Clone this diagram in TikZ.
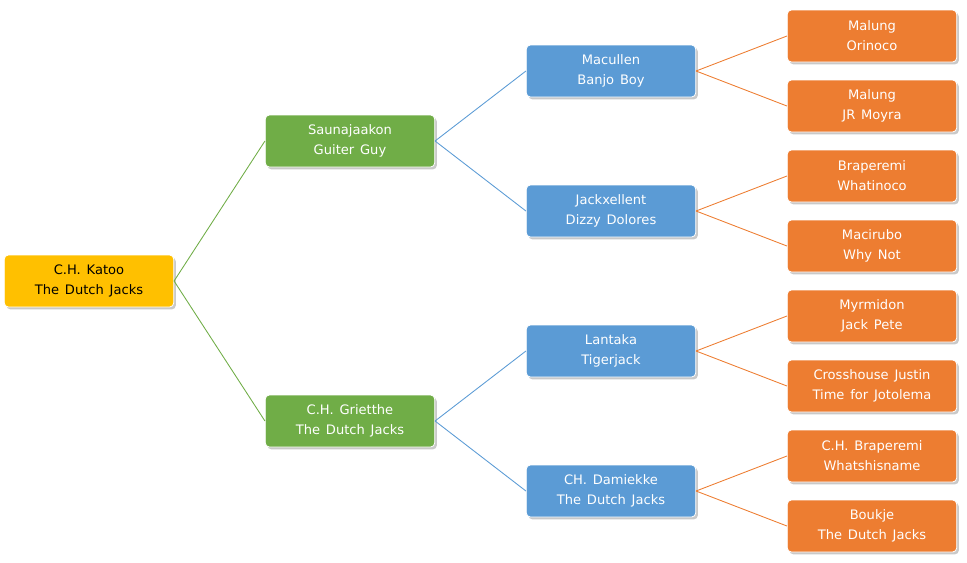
\documentclass[tikz,border=0pt]{standalone}
\usepackage{fontspec}
\setmainfont{DejaVu Sans}[WordSpace=1.4]
\usetikzlibrary{shadows}
\definecolor{rootyellow}{HTML}{FFC000}
\definecolor{siregreen}{HTML}{70AD47}
\definecolor{gsblue}{HTML}{5B9BD5}
\definecolor{ggsorange}{HTML}{ED7D31}
\tikzset{
  dogbox/.style={rectangle, rounded corners=3pt, draw=white, line width=0.6pt,
                 minimum width=127pt, minimum height=39pt, inner sep=0pt, align=center,
                 font=\fontsize{9.8}{15}\selectfont, text=white,
                 drop shadow={shadow xshift=1.6pt, shadow yshift=-1.8pt, opacity=0.3, fill=black!70}},
  rootbox/.style={dogbox, fill=rootyellow, text=black},
  sirebox/.style={dogbox, fill=siregreen},
  gsbox/.style={dogbox, fill=gsblue},
  ggsbox/.style={dogbox, fill=ggsorange},
  lnk/.style={line width=0.65pt},
}

\begin{document}
\begin{tikzpicture}[x=0.75pt,y=-0.75pt]
\useasboundingbox (0,0) rectangle (967,562);
% pedigree boxes
\node[rootbox] (katoo) at (89,281) {C.H. Katoo\\The Dutch Jacks};
\node[sirebox] (saunajaakon) at (350,141) {Saunajaakon\\Guiter Guy};
\node[sirebox] (grietthe) at (350,421) {C.H. Grietthe\\The Dutch Jacks};
\node[gsbox] (macullen) at (611,71) {Macullen\\Banjo Boy};
\node[gsbox] (jackxellent) at (611,211) {Jackxellent\\Dizzy Dolores};
\node[gsbox] (lantaka) at (611,351) {Lantaka\\Tigerjack};
\node[gsbox] (damiekke) at (611,491) {CH. Damiekke\\The Dutch Jacks};
\foreach \n/\y/\t in {orinoco/36/{Malung\\Orinoco}, moyra/106/{Malung\\JR Moyra},
  whatinoco/176/{Braperemi\\Whatinoco}, whynot/246/{Macirubo\\Why Not},
  jackpete/316/{Myrmidon\\Jack Pete}, jotolema/386/{Crosshouse Justin\\Time for Jotolema},
  whatshisname/456/{C.H. Braperemi\\Whatshisname}, boukje/526/{Boukje\\The Dutch Jacks}} {
  \node[ggsbox] (\n) at (872,\y) {\t};
}
% connectors
\draw[lnk, siregreen] (katoo.east) -- (saunajaakon.west);
\draw[lnk, siregreen] (katoo.east) -- (grietthe.west);
\foreach \p/\c in {saunajaakon/macullen, saunajaakon/jackxellent,
  grietthe/lantaka, grietthe/damiekke} {
  \draw[lnk, gsblue] (\p.east) -- (\c.west);
}
\foreach \p/\c in {macullen/orinoco, macullen/moyra, jackxellent/whatinoco, jackxellent/whynot,
  lantaka/jackpete, lantaka/jotolema, damiekke/whatshisname, damiekke/boukje} {
  \draw[lnk, ggsorange] (\p.east) -- (\c.west);
}
\end{tikzpicture}
\end{document}
